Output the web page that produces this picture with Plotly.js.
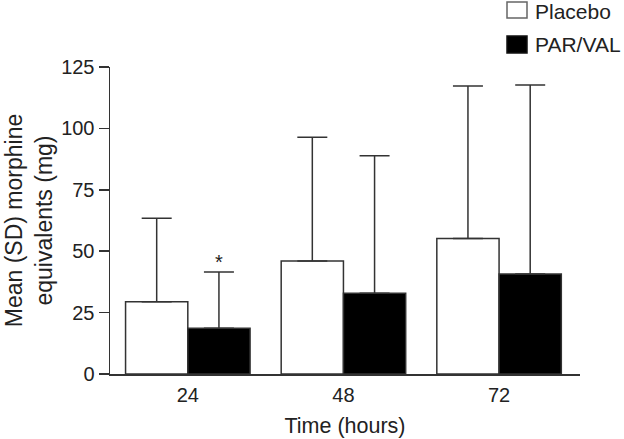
<!DOCTYPE html>
<html>
<head>
<meta charset="utf-8">
<script src="https://cdn.plot.ly/plotly-3.0.1.min.js"></script>
<style>html,body{margin:0;padding:0;background:#fff;}#chart{width:624px;height:439px;}</style>
</head>
<body>
<div id="chart"></div>
<script>
const categories = ["24", "48", "72"];
const seriesNames = ["Placebo", "PAR/VAL"];
const placeboMean = [29.4, 46.0, 55.2];
const placeboSD = [34.0, 50.4, 62.1];
const parvalMean = [18.6, 32.9, 40.7];
const parvalSD = [22.9, 56.0, 77.0];
const yTicks = [0, 25, 50, 75, 100, 125];
const seriesFill = ["#ffffff", "#000000"];

const font = "Liberation Sans, Arial, sans-serif";
const ink = "#333333";
const txt = "#222222";

const W = 624, H = 439, M = {l: 110, r: 44, t: 67, b: 65};
const pw = W - M.l - M.r, ph = H - M.t - M.b;
const px = v => (v - M.l) / pw;          // pixel x -> paper x
const py = v => (H - M.b - v) / ph;      // pixel y -> paper y

const traces = [
  {
    type: "bar", name: seriesNames[0], x: categories, y: placeboMean,
    marker: {color: seriesFill[0], line: {color: ink, width: 1.5}},
    error_y: {type: "data", symmetric: false, array: placeboSD, arrayminus: [0,0,0], color: ink, thickness: 1.5, width: 15},
    hoverinfo: "skip", showlegend: false
  },
  {
    type: "bar", name: seriesNames[1], x: categories, y: parvalMean,
    marker: {color: seriesFill[1], line: {color: ink, width: 1.5}},
    error_y: {type: "data", symmetric: false, array: parvalSD, arrayminus: [0,0,0], color: ink, thickness: 1.5, width: 15},
    hoverinfo: "skip", showlegend: false
  }
];

// legend drawn as boxes + labels above the plot
const legendRows = [{top: 2, bot: 18, cy: 12}, {top: 36, bot: 53, cy: 45}];
const shapes = [], annotations = [];
legendRows.forEach((r, i) => {
  shapes.push({type: "rect", xref: "paper", yref: "paper", x0: px(507), x1: px(527), y0: py(r.bot), y1: py(r.top),
    fillcolor: seriesFill[i], line: {color: i === 0 ? "#666" : "#111", width: 1.5}});
  annotations.push({xref: "paper", yref: "paper", x: px(533), y: py(r.cy), xanchor: "left", yanchor: "middle",
    text: seriesNames[i], showarrow: false, font: {size: 21, color: txt}});
});
annotations.push({x: 0.2, y: parvalMean[0] + parvalSD[0], xref: "x", yref: "y", text: "*", showarrow: false,
  yanchor: "bottom", yshift: -3, font: {size: 20, color: txt}});

const layout = {
  width: W, height: H,
  margin: M,
  paper_bgcolor: "#fff", plot_bgcolor: "#fff",
  font: {family: font, color: txt, size: 20},
  barmode: "group", bargap: 0.2, bargroupgap: 0,
  showlegend: false,
  xaxis: {
    type: "category", range: [-0.5, 2.52], showline: true, linecolor: ink, linewidth: 1.5,
    ticks: "", showgrid: false, zeroline: false, tickfont: {size: 20, color: txt}, ticklabelstandoff: 2,
    title: {text: "Time (hours)", font: {size: 21.5, color: txt}, standoff: 13}
  },
  yaxis: {
    range: [0, 125], tickvals: yTicks, showline: true, linecolor: ink, linewidth: 1.5,
    ticks: "outside", ticklen: 10, tickwidth: 1.5, tickcolor: ink,
    showgrid: false, zeroline: false, tickfont: {size: 20, color: txt},
    title: {text: "Mean (SD) morphine<br>equivalents (mg)", font: {size: 23, color: txt}, standoff: 2}
  },
  shapes: shapes,
  annotations: annotations
};

Plotly.newPlot("chart", traces, layout, {displayModeBar: false, staticPlot: true});
</script>
</body>
</html>
